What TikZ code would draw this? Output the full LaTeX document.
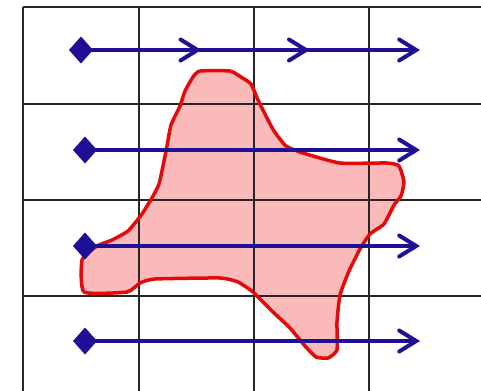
\documentclass[tikz,border=0pt]{standalone}
\usepackage{tikz}
\usetikzlibrary{arrows.meta,shapes.geometric,decorations.markings}
\definecolor{navy}{RGB}{30,15,150}
\definecolor{blobred}{RGB}{228,10,10}
\definecolor{blobfill}{RGB}{250,186,186}

\begin{document}
\begin{tikzpicture}[
        x=0.02cm, y=-0.02cm,
        start/.style={diamond, fill=navy, inner sep=0pt, outer sep=0pt, minimum width=4.8mm, minimum height=5.4mm},
        barb/.tip={Straight Barb[length=3.4mm, width=4.2mm, line cap=round]},
        flow/.style={draw=navy, line width=0.8mm, -barb},
        midbarbs/.style={postaction={decorate}, decoration={markings,
            mark=at position 0.355 with {\arrow{barb}},
            mark=at position 0.675 with {\arrow{barb}}}},
        gridline/.style={draw=black!85, line width=0.3mm}
      ]
      \useasboundingbox (0,0) rectangle (481,390);
      % the region
      \def\blob{(200,71) (230,71) (241,77) (251,84) (258,100) (266,116) (274,131)
        (286,146) (303,153) (340,163) (387,163) (399,166) (404,182) (401,196)
        (394,205) (384,224) (370,234) (360,249) (349,271) (340,295) (337,322)
        (337,350) (328,358) (316,357) (305,346) (290,328) (272,311) (253,292)
        (238,282) (220,278) (155,279) (140,283) (127,292) (84,292) (82,260)
        (97,246) (112,240) (128,231) (142,214) (153,196) (159,184) (163,166)
        (167,146) (171,125) (180,106) (185,91) (193,77)}
      \fill[blobfill] plot[smooth cycle, tension=0.3] coordinates {\blob};
      % grid
      \foreach \gx in {23,139,254,369}
        \draw[gridline] (\gx,7) -- (\gx,395);
      \foreach \gy in {104,200,296}
        \draw[gridline] (23,\gy) -- (485,\gy);
      \draw[gridline, line width=0.4mm] (23,7) -- (485,7);
      \draw[blobred, line width=0.7mm, line join=round] plot[smooth cycle, tension=0.3] coordinates {\blob};
      % scan lines
      \node[start] (s1) at (81,50)  {};
      \node[start] (s2) at (85,150) {};
      \node[start] (s3) at (85,246) {};
      \node[start] (s4) at (85,341) {};
      \coordinate (e1) at (420,50);
      \coordinate (e2) at (420,150);
      \coordinate (e3) at (420,246);
      \coordinate (e4) at (420,341);
      \draw[flow, midbarbs] (s1.center) -- (e1);
      \draw[flow] (s2.center) -- (e2);
      \draw[flow] (s3.center) -- (e3);
      \draw[flow] (s4.center) -- (e4);
    \end{tikzpicture}
\end{document}
